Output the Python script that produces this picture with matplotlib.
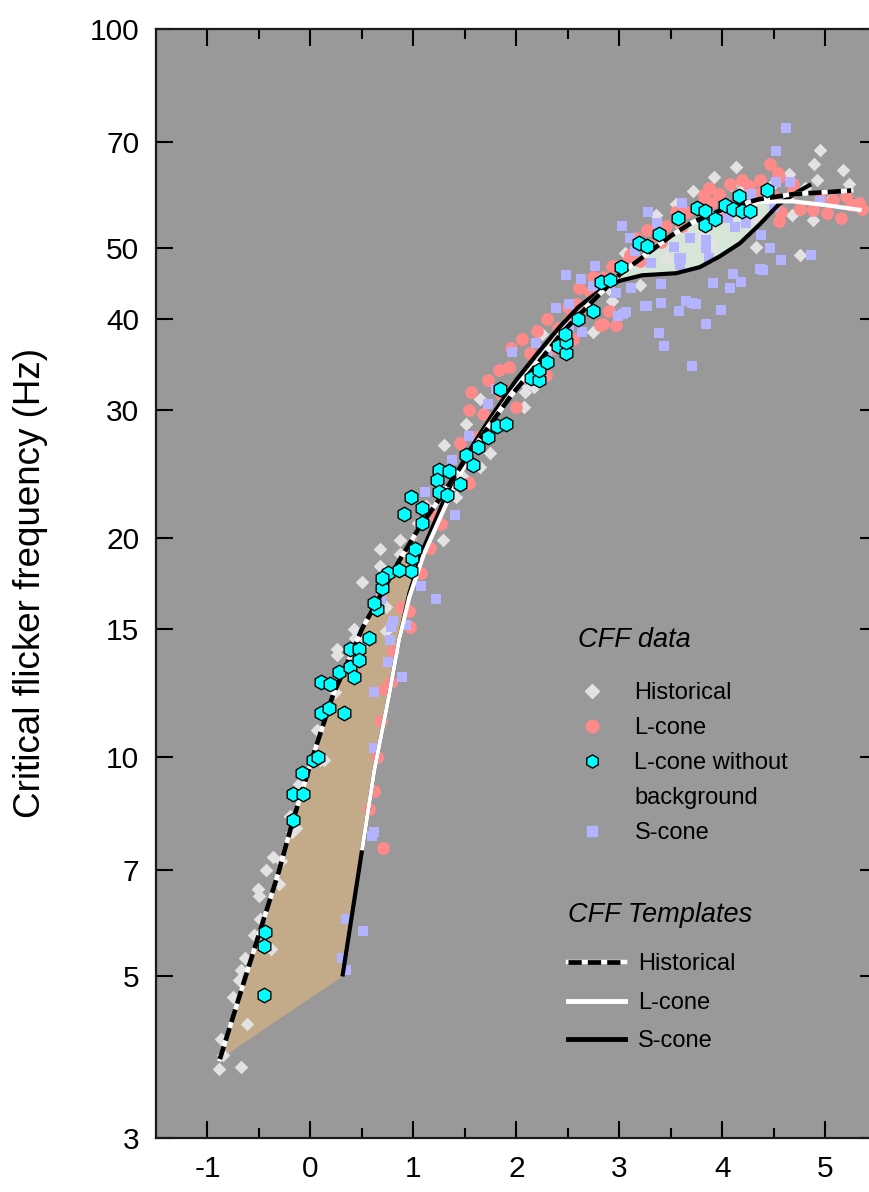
import matplotlib
matplotlib.use('Agg')
from matplotlib import pyplot as plt
from matplotlib.lines import Line2D
from matplotlib.ticker import FixedLocator, NullLocator, FixedFormatter

plt.rcParams['font.family'] = ['Liberation Sans', 'DejaVu Sans']
plt.rcParams['axes.unicode_minus'] = False

# ---- templates ----
hist_tpl_x = [-0.88, -0.62, -0.31, -0.18, 0.04, 0.22, 0.40, 0.50, 0.67, 0.86, 1.05, 1.25, 1.50, 1.71,
              1.95, 2.16, 2.45, 2.71, 3.00, 3.29, 3.50, 3.71, 4.04, 4.36, 4.68, 5.00, 5.25]
hist_tpl_y = [3.85, 5.05, 6.95, 8.1, 10.2, 12.2, 13.9, 15.0, 16.6, 18.6, 20.6, 22.6, 25.6, 28.2,
              31.4, 34.1, 38.4, 41.9, 46.0, 49.4, 52.0, 54.3, 56.8, 58.4, 59.3, 59.7, 60.0]

lcone_tpl_x = [0.50, 0.62, 0.76, 0.86, 0.96, 1.10, 1.32, 1.50, 1.71, 1.95, 2.16, 2.45, 2.71, 2.87,
               3.00, 3.29, 3.50, 3.71, 4.04, 4.36, 4.68, 5.00, 5.35]
lcone_tpl_y = [7.45, 9.6, 12.1, 14.5, 16.6, 19.0, 22.3, 25.2, 28.3, 31.6, 34.4, 38.6, 42.0, 44.2,
               46.1, 49.5, 52.0, 54.2, 56.6, 57.9, 58.0, 57.3, 56.4]

scone_tpl_x = [0.31, 0.50, 0.62, 0.76, 0.86, 0.96, 1.10, 1.30, 1.50, 1.75, 2.00, 2.20, 2.42, 2.60,
               2.74, 2.87, 3.00, 3.22, 3.55, 3.78, 3.97, 4.17, 4.36, 4.55, 4.75, 4.86]
scone_tpl_y = [5.0, 7.45, 9.6, 12.1, 14.5, 16.8, 19.4, 22.6, 25.8, 29.3, 33.0, 35.8, 39.0, 41.5,
               43.0, 44.3, 45.1, 45.9, 46.2, 47.1, 48.7, 50.8, 53.9, 57.5, 60.0, 61.2]

# ---- CFF data ----
hist_x = [-0.89, -0.67, -0.85, -0.87, -0.62, -0.75, -0.69, -0.67, -0.64, -0.38, -0.55, -0.49, -0.51,
          -0.50, -0.31, -0.43, -0.29, -0.20, -0.14, -0.11, 0.09, 0.13, 0.06, 0.24, 0.26, 0.43, 0.49,
          0.73, 0.73, 0.50, 0.67, 0.67, 0.87, 0.87, 1.29, 1.30, 1.04, 1.65, 1.74, 2.07, 2.09, 2.25,
          2.74, 1.51, 1.65, 1.49, -0.36, -0.18, 0.42, 0.26, 1.01, 1.12, 1.41, 2.17, 2.08,
          4.95, 4.89, 5.17, 5.23, 4.92, 4.13, 3.92, 4.55, 4.65, 3.71, 4.08, 4.40, 4.88, 4.67, 4.33,
          4.75, 4.31, 3.91, 3.45, 3.05, 2.93, 4.65, 3.55, 3.35, 3.60, 3.00, 4.20, 4.50, 4.80, 5.05,
          3.80, 3.20, 2.60, 2.40, 2.90]
hist_y = [3.73, 3.75, 3.9, 4.1, 4.3, 4.68, 4.95, 5.1, 5.3, 5.45, 5.7, 6.0, 6.6,
          6.45, 6.7, 7.0, 7.2, 8.3, 8.0, 9.2, 9.9, 9.9, 10.9, 12.3, 13.8, 14.6, 14.2,
          14.9, 16.1, 17.4, 18.3, 19.3, 19.9, 19.0, 19.9, 26.8, 21.0, 25.0, 26.2, 30.3, 32.4, 38.1,
          38.4, 28.7, 31.0, 24.2, 7.3, 7.9, 15.0, 14.1, 19.3, 22.1, 22.8, 32.2, 31.7,
          68.3, 65.2, 64.0, 61.2, 62.0, 64.6, 62.7, 62.9, 63.2, 59.9, 61.0, 59.0, 54.7, 55.6, 50.2,
          49.0, 55.0, 50.5, 48.5, 49.3, 42.3, 59.0, 57.5, 55.5, 53.5, 47.0, 60.5, 61.5, 60.5, 58.5,
          52.0, 44.5, 40.0, 37.0, 44.0]

lcone_x = [0.70, 0.57, 0.65, 0.71, 0.78, 0.97, 0.96, 0.88, 1.07, 1.16, 1.27, 1.54, 1.56, 1.54, 1.67,
           1.83, 1.93, 2.13, 2.29, 2.00, 0.62, 0.68, 0.80, 1.20, 1.40, 1.45, 1.62, 1.72, 1.85, 1.95,
           2.05, 2.20, 2.30, 2.40, 2.35, 2.50, 2.55,
           4.46, 4.54, 4.19, 4.26, 3.82, 3.73, 3.89, 3.55, 3.61, 3.45, 3.36, 3.27, 3.16, 3.10, 3.06,
           2.93, 2.84, 2.74, 2.71, 2.61, 2.55, 2.81, 2.97, 2.90, 4.36, 4.49, 4.57, 4.55, 4.68, 4.75,
           4.88, 5.01, 5.07, 5.15, 5.25, 5.33, 5.35, 4.55, 4.68, 3.97, 3.87, 4.07, 4.36, 3.81, 3.65,
           2.58, 2.51, 2.84, 4.95, 5.20, 4.00, 3.30, 3.20, 3.40]
lcone_y = [7.5, 8.5, 10.0, 12.4, 12.7, 15.1, 15.9, 16.1, 17.9, 19.4, 20.9, 23.8, 31.7, 30.0, 29.6,
           34.0, 34.3, 35.9, 33.5, 30.3, 9.0, 11.2, 14.0, 21.5, 24.5, 27.0, 27.5, 33.0, 31.5, 36.5,
           37.5, 38.5, 40.0, 38.8, 36.5, 41.5, 37.5,
           65.3, 63.5, 62.1, 60.9, 59.1, 56.6, 57.6, 56.0, 53.7, 53.7, 53.7, 52.9, 51.6, 49.0, 47.8,
           47.2, 45.7, 45.7, 43.6, 44.1, 41.0, 39.2, 39.2, 41.0, 59.6, 59.0, 56.0, 54.5, 60.0, 56.6,
           56.4, 55.9, 58.3, 55.0, 57.3, 57.7, 56.6, 62.6, 61.2, 59.3, 60.4, 61.2, 62.0, 57.7, 56.0,
           41.9, 39.9, 39.3, 58.5, 59.0, 55.5, 50.5, 48.0, 51.0]

scone_x = [0.34, 0.51, 0.34, 0.31, 0.62, 0.60, 0.62, 0.62, 0.89, 0.75, 0.77, 0.78, 0.93, 0.80, 1.22,
           1.07, 1.11, 1.40, 1.37, 1.54, 1.72, 1.96, 2.38, 2.51, 2.64, 2.19, 0.68, 1.00, 1.25, 1.60,
           1.80, 2.05, 2.30,
           4.62, 4.52, 4.66, 4.52, 4.28, 4.37, 4.46, 4.57, 4.86, 4.36, 4.39, 4.18, 4.10, 4.07, 3.91,
           3.99, 3.84, 3.70, 3.65, 3.58, 3.40, 3.38, 3.27, 3.06, 2.99, 3.40, 3.58, 3.68, 3.84, 3.84,
           3.87, 3.53, 3.60, 3.59, 3.31, 3.36, 3.28, 3.02, 3.10, 3.15, 3.61, 4.05, 4.12, 4.23, 2.76,
           2.48, 2.63, 2.74, 2.51, 2.97, 3.11, 3.74, 3.43, 3.70, 3.84, 3.03, 3.25, 4.95, 4.50, 3.90]
scone_y = [5.1, 5.77, 6.0, 5.3, 7.9, 7.8, 10.3, 12.3, 12.9, 13.5, 14.5, 15.1, 15.2, 15.4, 16.5,
           17.2, 23.1, 21.5, 25.6, 27.6, 30.6, 36.0, 41.4, 39.0, 38.4, 37.0, 16.5, 18.5, 23.5, 26.5,
           32.0, 33.0, 36.0,
           73.2, 67.9, 61.6, 61.6, 59.3, 52.1, 50.0, 48.2, 49.0, 46.8, 46.7, 44.9, 46.1, 44.1, 44.8,
           41.1, 39.4, 42.0, 42.3, 41.0, 42.1, 38.3, 41.7, 40.9, 40.3, 44.6, 48.5, 51.6, 51.3, 50.0,
           48.5, 50.2, 48.5, 47.4, 47.7, 54.1, 56.0, 53.7, 51.6, 49.6, 57.7, 55.0, 53.4, 54.2, 47.2,
           46.0, 45.4, 44.3, 41.9, 43.4, 44.1, 41.9, 36.7, 34.5, 39.3, 40.6, 41.6, 58.0, 57.0, 55.5]

lnb_x = [-0.44, -0.45, -0.45, -0.17, -0.17, -0.07, -0.08, 0.02, 0.07, 0.10, 0.18, 0.33, 0.10, 0.19,
         0.28, 0.38, 0.42, 0.38, 0.47, 0.47, 0.57, 0.65, 0.62, 0.69, 0.75, 0.69, 0.98, 0.99, 1.01,
         0.86, 0.98, 0.91, 1.08, 1.08, 1.25, 1.34, 1.23, 1.25, 1.33, 1.45, 1.58, 1.51, 1.63, 1.72,
         1.81, 1.90, 1.84, 2.14, 2.22, 2.22, 2.30, 2.40, 2.48, 2.48, 2.47, 2.60, 2.74, 2.82, 2.91,
         3.01, 3.19, 3.27, 3.38, 3.57, 3.75, 3.83, 3.83, 3.93, 4.02, 4.10, 4.16, 4.19, 4.27, 4.43]
lnb_y = [5.75, 5.5, 4.72, 8.2, 8.9, 8.9, 9.5, 9.9, 10.0, 11.5, 11.7, 11.5, 12.7, 12.6,
         13.1, 13.3, 12.9, 14.1, 14.1, 13.6, 14.6, 16.0, 16.3, 17.1, 17.9, 17.6, 18.0, 18.8, 19.3,
         18.1, 22.8, 21.6, 22.0, 21.0, 24.8, 24.7, 24.0, 23.1, 22.9, 23.7, 25.2, 26.0, 26.7, 27.5,
         28.5, 28.7, 32.0, 33.2, 33.0, 34.0, 34.9, 36.7, 35.9, 37.2, 38.1, 40.0, 41.0, 44.9, 45.2,
         47.1, 50.9, 50.3, 52.3, 55.0, 56.8, 56.2, 53.8, 54.8, 57.3, 56.6, 59.0, 56.2, 56.2, 60.1]

y_ticks = [3, 5, 7, 10, 15, 20, 30, 40, 50, 70, 100]
x_ticks = [-1, 0, 1, 2, 3, 4, 5]
x_minor = [-0.5, 0.5, 1.5, 2.5, 3.5, 4.5]

c_hist = '#e2e2e2'
c_lcone = '#ff8a8a'
c_scone = '#b3b3ff'
c_lnb = '#00ffff'

fig = plt.figure(figsize=(8.7, 11.92), dpi=100)
ax = fig.add_axes([156 / 870, 54 / 1192, 721 / 870, 1109 / 1192])
ax.set_facecolor('#999999')
ax.set_yscale('log')
ax.set_xlim(-1.5, 5.5)
ax.set_ylim(3, 100)

# tan area between historical and L/S-cone start
k = 10  # historical points up to x ~ 0.86
tan_x = hist_tpl_x[:k + 1] + lcone_tpl_x[:5][::-1] + [scone_tpl_x[0]]
tan_y = hist_tpl_y[:k + 1] + lcone_tpl_y[:5][::-1] + [scone_tpl_y[0]]
ax.fill(tan_x, tan_y, color='#c3aa89', lw=0, zorder=1)

# green area between L-cone and S-cone templates
gl = [(x, y) for x, y in zip(lcone_tpl_x, lcone_tpl_y) if 2.87 <= x <= 4.5]
gs = [(x, y) for x, y in zip(scone_tpl_x, scone_tpl_y) if 2.87 <= x <= 4.55]
green_x = [p[0] for p in gl] + [4.55] + [p[0] for p in gs][::-1]
green_y = [p[1] for p in gl] + [57.8] + [p[1] for p in gs][::-1]
ax.fill(green_x, green_y, color='#d6e6d6', lw=0, zorder=1)

ax.scatter(hist_x, hist_y, marker='D', s=48, color=c_hist, lw=0, zorder=2)
ax.scatter(lcone_x, lcone_y, marker='o', s=85, color=c_lcone, lw=0, zorder=3)
ax.scatter(scone_x, scone_y, marker='s', s=60, color=c_scone, lw=0, zorder=4)

ax.plot(scone_tpl_x, scone_tpl_y, color='black', lw=3, zorder=5, solid_capstyle='butt')
ax.plot(lcone_tpl_x, lcone_tpl_y, color='white', lw=3, zorder=6, solid_capstyle='butt')
ax.plot(hist_tpl_x, hist_tpl_y, color='white', lw=3.2, zorder=7)
ax.plot(hist_tpl_x, hist_tpl_y, color='black', lw=3.4, dashes=(2.8, 1.3), zorder=8)

ax.scatter(lnb_x, lnb_y, marker='h', s=110, color=c_lnb, edgecolor='black', lw=1.0, zorder=9)

# axes styling
ax.yaxis.set_major_locator(FixedLocator(y_ticks))
ax.yaxis.set_major_formatter(FixedFormatter([str(v) for v in y_ticks]))
ax.yaxis.set_minor_locator(NullLocator())
ax.xaxis.set_major_locator(FixedLocator(x_ticks))
ax.xaxis.set_major_formatter(FixedFormatter([str(v) for v in x_ticks]))
ax.xaxis.set_minor_locator(FixedLocator(x_minor))
ax.tick_params(which='major', direction='in', length=12, width=1.5, top=True, right=True,
               labelsize=21.5, pad=12, color='black')
ax.tick_params(which='minor', direction='in', length=7, width=1.5, top=True, right=True)
for s in ax.spines.values():
    s.set_linewidth(1.6)
    s.set_color('#1a1a1a')

ax.set_ylabel('Critical flicker frequency (Hz)', fontsize=26.5)
ax.yaxis.set_label_coords(-0.150, 0.5)

# legends
data_handles = [
    Line2D([], [], ls='none', marker='D', ms=7, color=c_hist, mec=c_hist),
    Line2D([], [], ls='none', marker='o', ms=9, color=c_lcone, mec=c_lcone),
    Line2D([], [], ls='none', marker='h', ms=9.5, color=c_lnb, mec='black', mew=1.0),
    Line2D([], [], ls='none'),
    Line2D([], [], ls='none', marker='s', ms=7.5, color=c_scone, mec=c_scone),
]
data_labels = ['Historical', 'L-cone', 'L-cone without', 'background', 'S-cone']
leg1 = ax.legend(data_handles, data_labels, title='CFF data', loc='upper left',
                 bbox_to_anchor=(0.585, 0.461), frameon=False, fontsize=17,
                 title_fontproperties={'style': 'italic', 'size': 19.5}, alignment='left',
                 handlelength=1.2, handletextpad=1.2, labelspacing=0.55, borderpad=0,
                 borderaxespad=0)
leg1._legend_box.sep = 21
ax.add_artist(leg1)

h_hist = (Line2D([], [], color='white', lw=3.2),
          Line2D([], [], color='black', lw=3.4, dashes=(2.8, 1.3)))
tpl_handles = [h_hist,
               Line2D([], [], color='white', lw=3.5),
               Line2D([], [], color='black', lw=3.5)]
leg2 = ax.legend(tpl_handles, ['Historical', 'L-cone', 'S-cone'], title='CFF Templates',
                 loc='upper left', bbox_to_anchor=(0.572, 0.2127), frameon=False, fontsize=17,
                 title_fontproperties={'style': 'italic', 'size': 19.5}, alignment='left',
                 handlelength=2.4, handletextpad=0.55, labelspacing=0.706, borderpad=0,
                 borderaxespad=0)
leg2._legend_box.sep = 18

fig.savefig('out.png', dpi=100)
